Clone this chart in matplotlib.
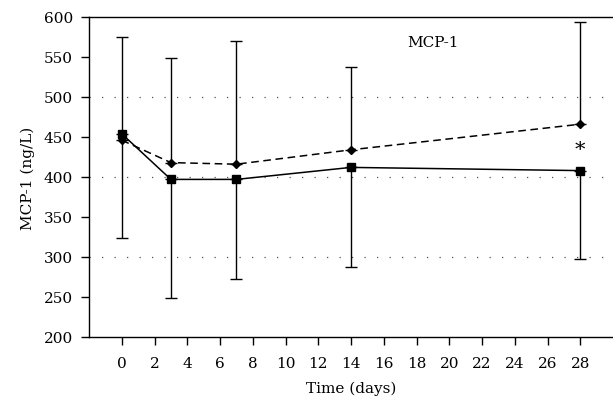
import numpy as np
import matplotlib.pyplot as plt

plt.rcParams['font.family'] = ['DejaVu Serif', 'Liberation Serif']

days = [0, 3, 7, 14, 28]
solid_vals = [454, 397, 397, 412, 408]    # squares
dashed_vals = [446, 418, 416, 434, 466]   # diamonds
upper_ends = [575, 549, 570, 537, 594]
lower_ends = [324, 249, 272, 288, 297]

dashed = np.array(dashed_vals)
solid = np.array(solid_vals)
up_err = np.array(upper_ends) - dashed
lo_err = solid - np.array(lower_ends)

fig = plt.figure(figsize=(6.13, 4.10), dpi=100)
ax = fig.add_axes([89/613, 1-338/410, 1-89/613, 320/410])

for y in [300, 400, 500]:
    ax.axhline(y, color='#555555', lw=0.9, ls=(0, (1, 9)), zorder=0)

ax.errorbar(days, dashed, yerr=[np.zeros(len(days)), up_err], fmt='none',
            ecolor='black', elinewidth=1.0, capsize=4, capthick=1.0)
ax.errorbar(days, solid, yerr=[lo_err, np.zeros(len(days))], fmt='none',
            ecolor='black', elinewidth=1.0, capsize=4, capthick=1.0)
ax.plot(days, dashed, color='black', lw=1.1, ls=(0, (5, 3)), marker='D', markersize=4.5)
ax.plot(days, solid, color='black', lw=1.1, marker='s', markersize=5.5)

ax.text(28, 434, '*', ha='center', va='center', fontsize=15, fontweight='light')
ax.text(19, 569, 'MCP-1', ha='center', va='center', fontsize=11)

ax.set_xlim(-2, 30)
ax.set_ylim(200, 600)
ax.set_xticks(range(0, 29, 2))
ax.set_yticks(range(200, 601, 50))
ax.spines['right'].set_visible(False)
for s in ['left', 'bottom', 'top']:
    ax.spines[s].set_linewidth(1.0)
ax.tick_params(direction='out', length=5.5, width=1.0, labelsize=11)
ax.tick_params(axis='x', pad=8)
ax.tick_params(axis='y', pad=6)
ax.set_xlabel('Time (days)', fontsize=11, labelpad=8)
ax.set_ylabel('MCP-1 (ng/L)', fontsize=11, labelpad=6)

plt.savefig('out.png', dpi=100)
